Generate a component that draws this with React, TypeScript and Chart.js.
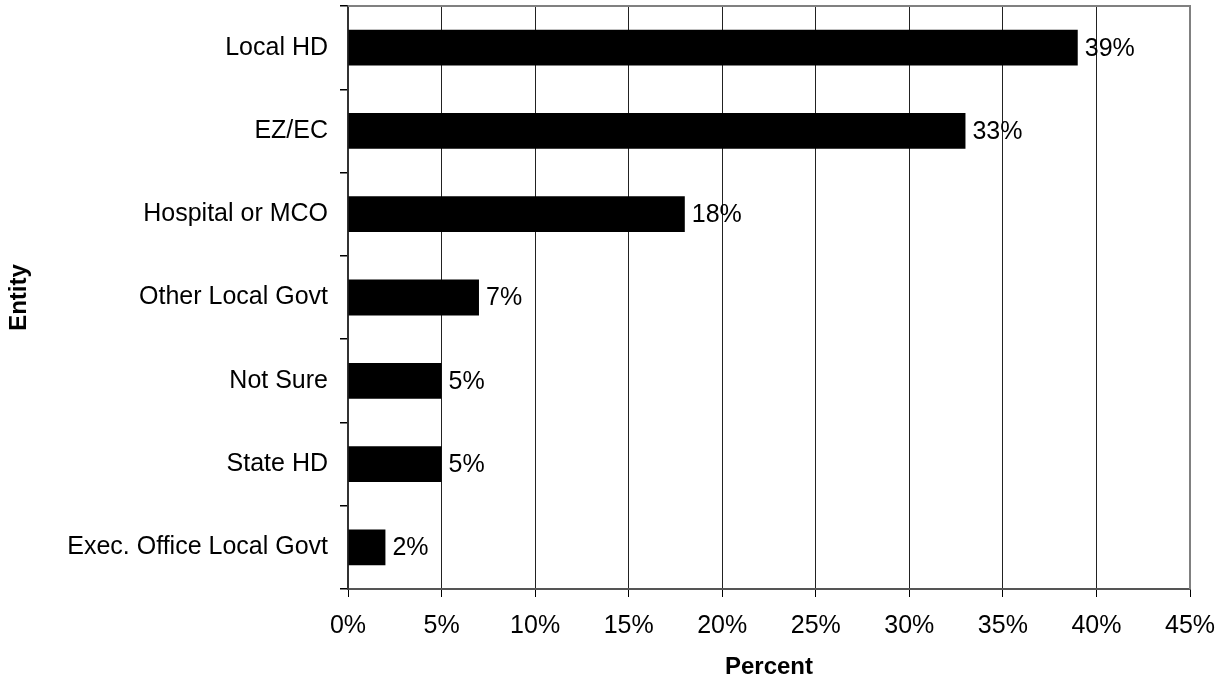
import React, { useEffect, useRef } from "react";
import { Chart, registerables } from "chart.js";

Chart.register(...registerables);

const categories = [
  "Local HD",
  "EZ/EC",
  "Hospital or MCO",
  "Other Local Govt",
  "Not Sure",
  "State HD",
  "Exec. Office Local Govt",
];
const percentValues = [39, 33, 18, 7, 5, 5, 2];
const xMin = 0;
const xMax = 45;
const xStep = 5;
const xTitle = "Percent";
const yTitle = "Entity";

const FONT = "'Liberation Sans', Arial, sans-serif";

const frameAndLabels = {
  id: "frameAndLabels",
  afterDatasetsDraw(chart: any) {
    const { ctx, chartArea } = chart;
    ctx.save();
    ctx.strokeStyle = "#808080";
    ctx.lineWidth = 2;
    ctx.beginPath();
    ctx.moveTo(chartArea.left, chartArea.top);
    ctx.lineTo(chartArea.right, chartArea.top);
    ctx.lineTo(chartArea.right, chartArea.bottom);
    ctx.stroke();
    const meta = chart.getDatasetMeta(0);
    ctx.fillStyle = "#000";
    ctx.font = `25px ${FONT}`;
    ctx.textAlign = "left";
    ctx.textBaseline = "middle";
    meta.data.forEach((bar: any, i: number) => {
      const v = chart.data.datasets[0].data[i];
      ctx.fillText(`${v}%`, bar.x + 7, bar.y + 1);
    });
    ctx.restore();
  },
};

export default function App() {
  const ref = useRef<HTMLCanvasElement>(null);
  useEffect(() => {
    if (!ref.current) return;
    const chart = new Chart(ref.current, {
      type: "bar",
      data: {
        labels: categories,
        datasets: [
          {
            data: percentValues,
            backgroundColor: "#000",
            borderWidth: 0,
            barPercentage: 0.43,
            categoryPercentage: 1,
          },
        ],
      },
      options: {
        indexAxis: "y",
        animation: false,
        responsive: false,
        maintainAspectRatio: false,
        layout: { padding: { top: 6, right: 29, left: 0, bottom: 0 } },
        plugins: {
          legend: { display: false },
          tooltip: { enabled: false },
        },
        scales: {
          x: {
            min: xMin,
            max: xMax,
            ticks: {
              stepSize: xStep,
              color: "#000",
              font: { family: FONT, size: 25 },
              padding: 14,
              callback: (v: any) => `${v}%`,
              maxRotation: 0,
            },
            grid: {
              color: "#222",
              lineWidth: 1,
              tickLength: 8,
              tickColor: "#000",
            },
            border: { color: "#555", width: 2 },
            title: {
              display: true,
              text: xTitle,
              color: "#000",
              font: { family: FONT, size: 24, weight: "bold" },
              padding: { top: 12, bottom: 0 },
            },
            afterFit: (scale: any) => {
              scale.height = 93;
              scale.paddingLeft = 0;
              scale.paddingRight = 0;
            },
          },
          y: {
            ticks: {
              color: "#000",
              font: { family: FONT, size: 25 },
              padding: 12,
            },
            grid: {
              offset: true,
              drawOnChartArea: false,
              tickLength: 8,
              color: "#000",
              lineWidth: 1.5,
            },
            border: { color: "#333", width: 2 },
            title: {
              display: true,
              text: yTitle,
              color: "#000",
              font: { family: FONT, size: 24, weight: "bold" },
              padding: { top: 5, bottom: 0 },
            },
            afterFit: (scale: any) => {
              scale.width = 348;
              scale.paddingTop = 0;
              scale.paddingBottom = 0;
            },
          },
        },
      },
      plugins: [frameAndLabels],
    });
    return () => chart.destroy();
  }, []);
  return (
    <div style={{ position: "fixed", left: 0, top: 0, width: 1219, height: 682, background: "#fff" }}>
      <canvas ref={ref} width={1219} height={682} style={{ width: 1219, height: 682 }} />
    </div>
  );
}
